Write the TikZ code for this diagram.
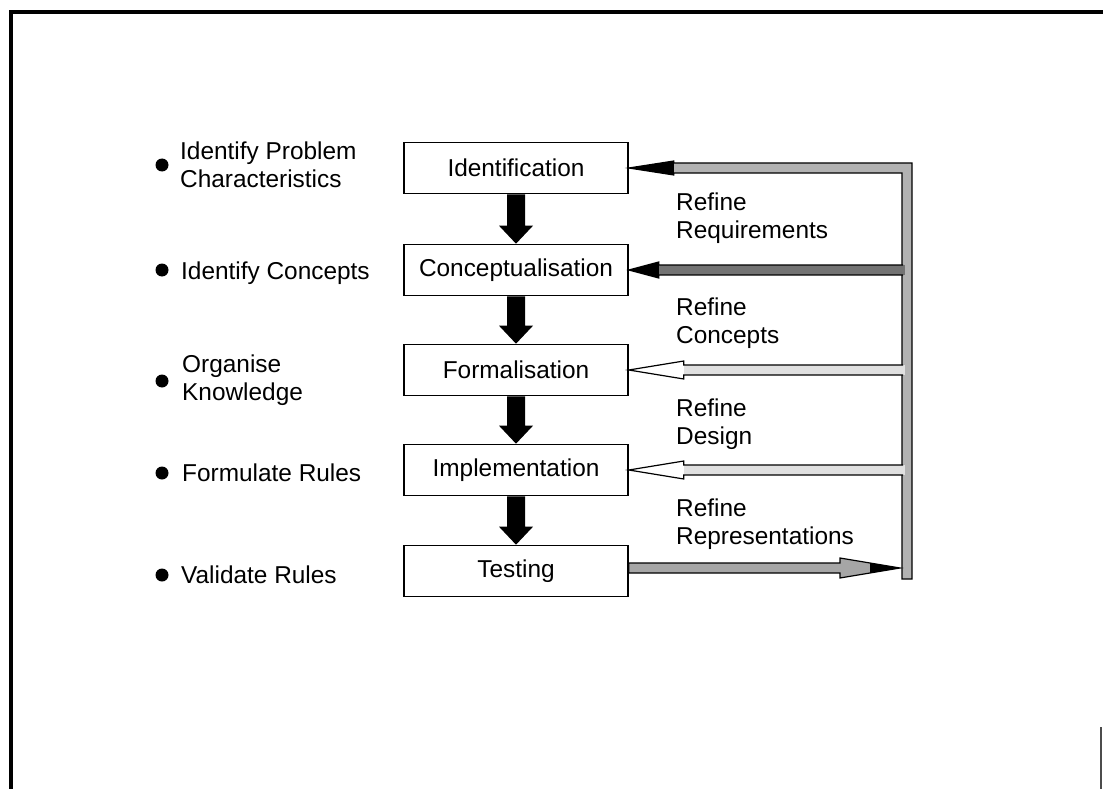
\documentclass[tikz,border=0pt]{standalone}
\usepackage{fontspec}
\setmainfont{Liberation Sans}
\usetikzlibrary{calc}
\begin{document}
\begin{tikzpicture}[x=1pt,y=-1pt,
  txt/.style={font=\fontsize{24.4}{28}\selectfont, inner sep=0pt},
  stage/.style={draw, line width=1.6pt, minimum width=224pt, minimum height=51pt,
    inner sep=0pt, font=\fontsize{24.4}{28}\selectfont},
  lbl/.style={txt, anchor=base west, align=left},
  bullet/.style={circle, fill=black, inner sep=0pt, minimum size=13pt},
  fbline/.style={line width=1.2pt, line join=miter},
]
\useasboundingbox (0,0) rectangle (1103,789);

% page frame
\draw[line width=3.5pt] (11,789) -- (11,12) -- (1103,12);
\draw[line width=2pt, black!70] (1101,727) -- (1101,789);

% stages of the process
\node[stage] (id)   at (516,168) {Identification};
\node[stage] (con)  at (516,270) {Conceptualisation};
\node[stage] (form) at (516,370) {Formalisation};
\node[stage] (impl) at (516,470) {Implementation};
\node[stage] (test) at (516,571) {Testing};

% activities on the left (base = baseline of the last line)
\node[bullet] (b1) at (162,165) {};
\node[lbl] (t1) at (180,187) {Identify Problem\\Characteristics};
\node[bullet] (b2) at (162,270) {};
\node[lbl] (t2) at (181,279) {Identify Concepts};
\node[bullet] (b3) at (162,381) {};
\node[lbl] (t3) at (182,400) {Organise\\Knowledge};
\node[bullet] (b4) at (162,473) {};
\node[lbl] (t4) at (182,481) {Formulate Rules};
\node[bullet] (b5) at (162,575) {};
\node[lbl] (t5) at (181,583) {Validate Rules};

% refinement labels
\node[lbl] (r1) at (676,238) {Refine\\Requirements};
\node[lbl] (r2) at (676,343) {Refine\\Concepts};
\node[lbl] (r3) at (676,444) {Refine\\Design};
\node[lbl] (r4) at (676,544) {Refine\\Representations};

% thick downward arrows between stages
\newcommand\stagearrow[2]{%
  \fill[black] ($(#1.south)+(-9,0)$) -- ($(#2.north)+(-9,-18)$)
    -- ($(#2.north)+(-17,-18)$) -- (#2.north) -- ($(#2.north)+(17,-18)$)
    -- ($(#2.north)+(9,-18)$) -- ($(#1.south)+(9,0)$) -- cycle;}
\stagearrow{id}{con}
\stagearrow{con}{form}
\stagearrow{form}{impl}
\stagearrow{impl}{test}

% feedback return bar
\coordinate (barL) at (902,0);
\coordinate (barR) at (912,0);
\coordinate (hb1) at ($(id.east)+(45,0)$);
\filldraw[fbline, fill=black!30] (id.east) -- ($(hb1)+(0,-7)$) -- ($(hb1)+(0,-5)$)
  -- ($(id.east -| barR)+(0,-5)$) -- ($(test.east -| barR)+(0,8)$)
  -- ($(test.east -| barL)+(0,8)$) -- ($(id.east -| barL)+(0,5)$)
  -- ($(hb1)+(0,5)$) -- ($(hb1)+(0,7)$) -- cycle;
\fill[black] (id.east) -- ($(hb1)+(0,-7)$) -- ($(hb1)+(0,7)$) -- cycle;

% refinement arrows back into the stages
\newcommand\refinearrow[5]{% node, head length, head half width, shaft fill, head fill
  \coordinate (hb) at ($(#1.east)+(#2,0)$);
  \fill[#4] ($(hb)+(0,-5)$) -- ($(#1.east -| barL)+(3,-5)$)
    -- ($(#1.east -| barL)+(3,5)$) -- ($(hb)+(0,5)$) -- cycle;
  \fill[#5] (#1.east) -- ($(hb)+(0,-#3)$) -- ($(hb)+(0,#3)$) -- cycle;
  \draw[fbline] ($(#1.east -| barL)+(1,-5)$) -- ($(hb)+(0,-5)$) -- ($(hb)+(0,-#3)$)
    -- (#1.east) -- ($(hb)+(0,#3)$) -- ($(hb)+(0,5)$) -- ($(#1.east -| barL)+(1,5)$);}
\refinearrow{con}{30}{8}{black!55}{black}
\refinearrow{form}{55}{9}{black!12}{white}
\refinearrow{impl}{55}{9}{black!12}{white}

% testing result sent on to the return bar
\coordinate (tip) at ($(test.east -| barL)+(-2,-3)$);
\coordinate (tb) at ($(tip)+(-60,0)$);
\filldraw[fbline, fill=black!35] ($(test.east)+(0,-8)$) -- ($(tb)+(0,-5)$) -- ($(tb)+(0,-10)$)
  -- (tip) -- ($(tb)+(0,10)$) -- ($(tb)+(0,5)$) -- ($(test.east)+(0,2)$) -- cycle;
\fill[black] ($(tb)+(30,-5)$) -- (tip) -- ($(tb)+(30,5)$) -- cycle;
\end{tikzpicture}
\end{document}
